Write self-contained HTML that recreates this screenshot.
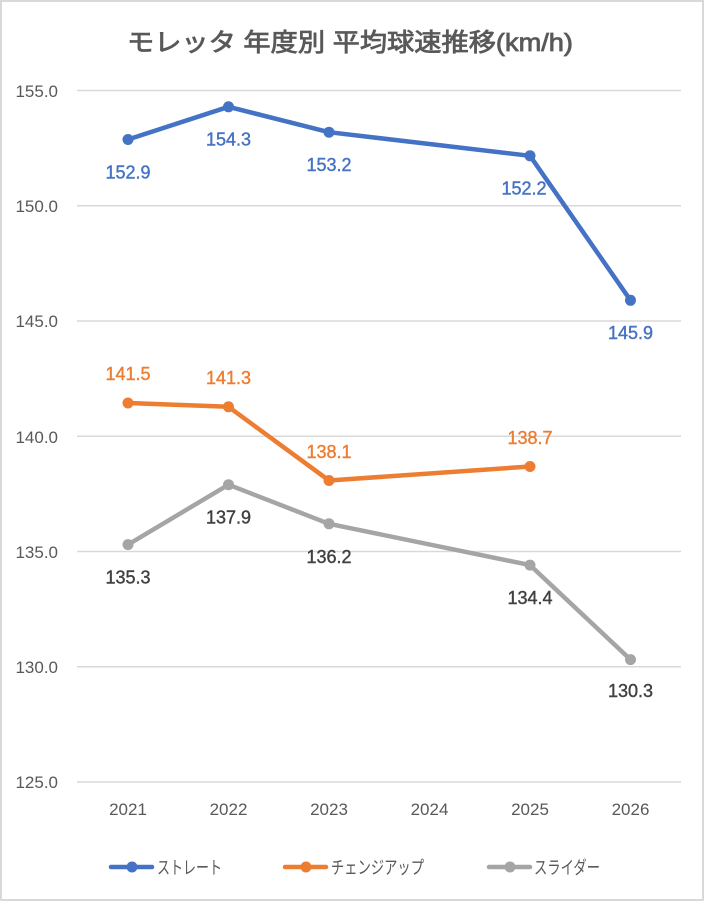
<!DOCTYPE html>
<html><head><meta charset="utf-8"><style>
html,body{margin:0;padding:0;background:#fff;}
svg{display:block;font-family:"Liberation Sans","Noto Sans CJK JP",sans-serif;}
</style></head><body>
<svg width="705" height="903" viewBox="0 0 705 903" xmlns="http://www.w3.org/2000/svg">
<rect x="0" y="0" width="705" height="903" fill="#fff"/>
<rect x="1" y="1" width="702" height="899" fill="none" stroke="#d9d9d9" stroke-width="2"/>
<text x="350" y="51" text-anchor="middle" font-size="25" fill="#595959" stroke="#595959" stroke-width="0.8" textLength="446" lengthAdjust="spacingAndGlyphs">モレッタ 年度別 平均球速推移(km/h)</text>
<g stroke="#d9d9d9" stroke-width="1.5">
<line x1="77" y1="90.5" x2="681" y2="90.5"/>
<line x1="77" y1="205.75" x2="681" y2="205.75"/>
<line x1="77" y1="321" x2="681" y2="321"/>
<line x1="77" y1="436.25" x2="681" y2="436.25"/>
<line x1="77" y1="551.5" x2="681" y2="551.5"/>
<line x1="77" y1="666.75" x2="681" y2="666.75"/>
<line x1="77" y1="782" x2="681" y2="782"/>
</g>
<g font-size="17" fill="#595959" text-anchor="end">
<text x="58" y="97">155.0</text>
<text x="58" y="212">150.0</text>
<text x="58" y="327">145.0</text>
<text x="58" y="443">140.0</text>
<text x="58" y="558">135.0</text>
<text x="58" y="673">130.0</text>
<text x="58" y="788">125.0</text>
</g>
<g font-size="17" fill="#595959" text-anchor="middle">
<text x="128" y="815">2021</text>
<text x="228.5" y="815">2022</text>
<text x="329" y="815">2023</text>
<text x="429.5" y="815">2024</text>
<text x="530" y="815">2025</text>
<text x="630.5" y="815">2026</text>
</g>
<!-- gray -->
<polyline points="128,544.6 228.5,484.7 329,523.8 530,565.1 630.5,659.6" fill="none" stroke="#A5A5A5" stroke-width="4.5" stroke-linejoin="round" stroke-linecap="round"/>
<g fill="#A5A5A5">
<circle cx="128" cy="544.6" r="5.5"/><circle cx="228.5" cy="484.7" r="5.5"/><circle cx="329" cy="523.8" r="5.5"/><circle cx="530" cy="565.1" r="5.5"/><circle cx="630.5" cy="659.6" r="5.5"/>
</g>
<!-- orange -->
<polyline points="128,403 228.5,406.8 329,480.5 530,466.5" fill="none" stroke="#ED7D31" stroke-width="4.5" stroke-linejoin="round" stroke-linecap="round"/>
<g fill="#ED7D31">
<circle cx="128" cy="403" r="5.5"/><circle cx="228.5" cy="406.8" r="5.5"/><circle cx="329" cy="480.5" r="5.5"/><circle cx="530" cy="466.5" r="5.5"/>
</g>
<!-- blue -->
<polyline points="128,139.5 228.5,106.8 329,132.2 530,155.8 630.5,300.3" fill="none" stroke="#4472C4" stroke-width="4.5" stroke-linejoin="round" stroke-linecap="round"/>
<g fill="#4472C4">
<circle cx="128" cy="139.5" r="5.5"/><circle cx="228.5" cy="106.8" r="5.5"/><circle cx="329" cy="132.2" r="5.5"/><circle cx="530" cy="155.8" r="5.5"/><circle cx="630.5" cy="300.3" r="5.5"/>
</g>
<g font-size="18" text-anchor="middle" stroke-width="0.4">
<g fill="#4472C4" stroke="#4472C4">
<text x="128" y="178.5">152.9</text>
<text x="228.5" y="145.5">154.3</text>
<text x="329" y="171">153.2</text>
<text x="524" y="194.5">152.2</text>
<text x="630.5" y="339">145.9</text>
</g>
<g fill="#ED7D31" stroke="#ED7D31">
<text x="128" y="380">141.5</text>
<text x="228.5" y="384">141.3</text>
<text x="329" y="458">138.1</text>
<text x="530" y="444">138.7</text>
</g>
<g fill="#404040" stroke="#404040">
<text x="128" y="583.5">135.3</text>
<text x="228.5" y="523.5">137.9</text>
<text x="329" y="563">136.2</text>
<text x="530" y="604">134.4</text>
<text x="630.5" y="697">130.3</text>
</g>
</g>
<!-- legend -->
<g stroke-width="4.5" stroke-linecap="round">
<line x1="111" y1="867" x2="152" y2="867" stroke="#4472C4"/>
<line x1="285" y1="867" x2="326" y2="867" stroke="#ED7D31"/>
<line x1="489" y1="867" x2="530" y2="867" stroke="#A5A5A5"/>
</g>
<circle cx="132" cy="867" r="5.5" fill="#4472C4"/>
<circle cx="306" cy="867" r="5.5" fill="#ED7D31"/>
<circle cx="510" cy="867" r="5.5" fill="#A5A5A5"/>
<g font-size="18" fill="#595959">
<text x="157" y="874" textLength="65" lengthAdjust="spacingAndGlyphs">ストレート</text>
<text x="331" y="874" textLength="93" lengthAdjust="spacingAndGlyphs">チェンジアップ</text>
<text x="534" y="874" textLength="66" lengthAdjust="spacingAndGlyphs">スライダー</text>
</g>
</svg>
</body></html>
